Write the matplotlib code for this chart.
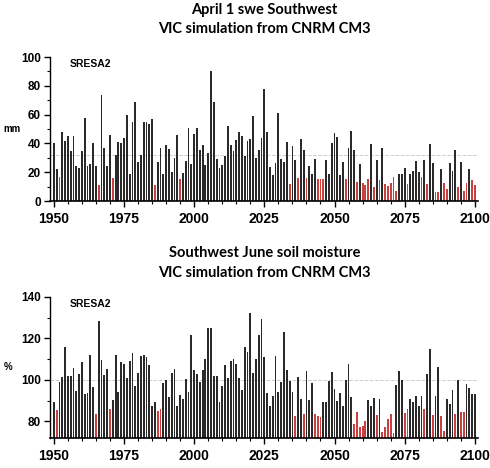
import numpy as np
import matplotlib
matplotlib.use("Agg")
import matplotlib.pyplot as plt
from matplotlib.ticker import MultipleLocator

years = np.arange(1950, 2101)

# April 1 SWE (mm)
swe = [
    40, 22, 16.5, 48, 42, 45, 34.5, 45, 24, 23,
    34.5, 58, 24, 26, 40, 24, 11, 74, 37, 24,
    46, 16, 32, 41, 40, 43.5, 60, 18.5, 55, 69,
    27, 32, 55, 55, 53.5, 57, 11, 27,
    37, 18.5, 39, 36, 20, 30, 46, 15.5, 19.5, 27.5,
    51, 26, 46.5, 51, 35.5, 39, 25, 33.5, 90, 69,
    29.5, 23, 25, 31, 52, 39, 35, 42.5, 48, 45,
    31, 41.5, 43, 59, 30, 35.5, 44, 77.5,
    48, 23.5, 18, 26.5, 61, 29, 27, 41, 11.5, 38,
    28.5, 16, 43, 35.5, 16, 24, 19, 29.5, 15.5, 15.5,
    15, 28.5, 19, 40, 47.5, 44.5, 18, 27, 15.5, 36.5,
    48.5, 35.5, 13.5, 26, 12.5, 11, 15.5,
    39.5, 9.5, 28.5, 14.5, 37, 11.5, 10.5, 12.5, 17, 7,
    19, 19, 23, 11.5, 19, 21, 28, 20.5, 17, 28.5,
    12, 39.5, 26.5, 6, 6.5, 22, 12.5, 8, 26.5, 21,
    35.5, 9.5, 27, 7, 12.5, 22.5, 14.5, 11,
]

# June soil moisture (%)
soil = [
    89.4, 85.5, 99, 101.3, 115.8, 102, 101.8, 105.8, 94.7, 102.7,
    108.5, 93, 93.7, 112, 96.6, 83.4, 128.4, 109.8, 102.4, 105.5,
    86, 90.3, 111.8, 94.4, 108.7, 107.7, 101.1, 108.9, 113, 97.3,
    103.2, 111.5, 112, 111, 107.3, 87.5, 89.4, 85, 86, 98.4,
    100, 91.8, 103.2, 105.2, 87.5, 92.7, 90.8, 100.5, 94.4, 121.5,
    105, 102.7, 98.9, 104.7, 110.2, 124.8, 124.8, 101.8, 102.1, 89.2,
    97.3, 107.1, 100.8, 109.2, 110.2, 107.6, 100.8, 95, 116, 113.4,
    132.4, 103.4, 110.2, 121.5, 129.2, 111.1, 93.7, 87.5, 92.4, 111.5,
    94.4, 98.9, 123.2, 105, 99.7, 94.4, 82.4, 101.3, 90.8, 83.5,
    104.5, 90.5, 98.5, 83.7, 82.6, 82.3, 89.2, 89.5, 99.5, 104,
    95.6, 89.8, 93.7, 87.5, 100.2, 107.9, 91.8, 78.7, 84.4, 77.3,
    77.6, 80.2, 90.5, 87.5, 91.1, 82.9, 90.8, 75, 77.1, 81.1,
    83.4, 74.4, 97.6, 104.4, 100.2, 84, 86, 91, 89.4, 92.1,
    87.5, 92.1, 86, 103.1, 115, 83.1, 92.1, 106.1, 82.7, 75.2,
    90.8, 88.4, 95, 83.4, 100.2, 84.4, 84.7, 98.2, 96, 93.2,
    93,
]

swe_ref = 32
swe_low = 17.5
soil_ref = 100
soil_low = 86.8

titles = ["April 1 swe Southwest\nVIC simulation from CNRM CM3",
          "Southwest June soil moisture\nVIC simulation from CNRM CM3"]

fig = plt.figure(figsize=(4.9, 4.68), dpi=100)
ax1 = fig.add_axes([0.103, 0.5705, 0.873, 0.3075])
ax2 = fig.add_axes([0.103, 0.064, 0.873, 0.3015])

tick_font = dict(family="Liberation Sans", weight="bold")


def draw_panel(ax, vals, low, ref, ylim, ymaj, ymin, ylab, title, pad):
    vals = np.array(vals)
    bottom = ylim[0]
    is_low = vals < low
    ax.bar(years[~is_low], vals[~is_low] - bottom, bottom=bottom, width=0.65,
           color="#2a2a2a", linewidth=0)
    ax.bar(years[is_low], vals[is_low] - bottom, bottom=bottom, width=0.65,
           color="#c84040", linewidth=0)
    ax.axhline(ref, color="#cccccc", linestyle="--", linewidth=0.7, zorder=0)
    ax.set_xlim(1948.8, 2101.2)
    ax.set_ylim(*ylim)
    ax.spines["top"].set_visible(False)
    ax.spines["right"].set_visible(False)
    ax.spines["bottom"].set_linewidth(1.2)
    ax.spines["left"].set_linewidth(1.0)
    ax.xaxis.set_major_locator(MultipleLocator(25))
    ax.xaxis.set_minor_locator(MultipleLocator(5))
    ax.yaxis.set_major_locator(MultipleLocator(ymaj))
    ax.yaxis.set_minor_locator(MultipleLocator(ymin))
    ax.tick_params(axis="x", which="major", length=4, width=1, pad=4)
    ax.tick_params(axis="x", which="minor", length=2.5, width=0.8)
    ax.tick_params(axis="y", which="major", length=4, width=1, pad=3)
    ax.tick_params(axis="y", which="minor", length=2.5, width=0.8)
    for lab in ax.get_xticklabels():
        lab.set_fontproperties(tick_font)
        lab.set_fontsize(10)
    for lab in ax.get_yticklabels():
        lab.set_fontproperties(tick_font)
        lab.set_fontsize(8.5)
    ax.text(0.045, 0.985, "SRESA2", transform=ax.transAxes, ha="left", va="top",
            fontsize=7.5, fontweight="bold", family="Liberation Sans")
    ax.text(-0.11, 0.5, ylab, transform=ax.transAxes, ha="left", va="center",
            fontsize=7, fontweight="bold", family="Liberation Sans")
    ax.set_title(title, fontsize=10.5, fontweight="bold", family="Lato",
                 pad=pad, linespacing=1.5)


draw_panel(ax1, swe, swe_low, swe_ref, (0, 100), 20, 10, "mm", titles[0], 17)
draw_panel(ax2, soil, soil_low, soil_ref, (72, 140), 20, 10, "%", titles[1], 14.5)

fig.savefig("out.png", dpi=100)
